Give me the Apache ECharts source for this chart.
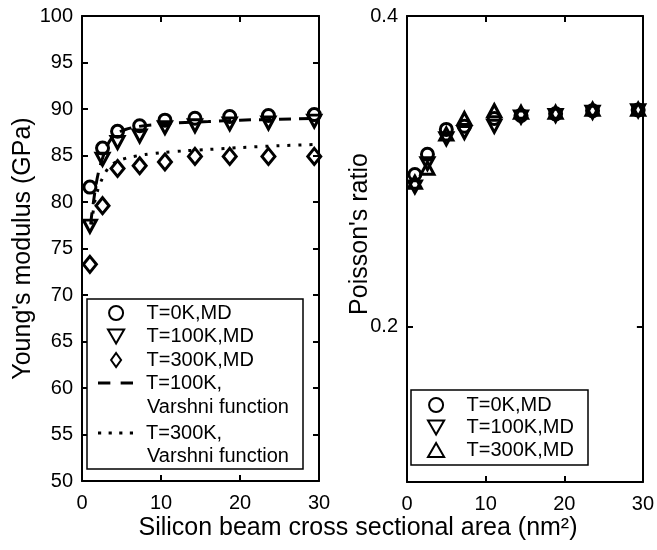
<!DOCTYPE html>
<html>
<head>
<meta charset="utf-8">
<script src="https://cdn.jsdelivr.net/npm/echarts@6/dist/echarts.min.js"></script>
<style>
html,body{margin:0;padding:0;background:#fff;}
#chart{width:657px;height:550px;}
</style>
</head>
<body>
<div id="chart"></div>
<script>
// ---- data ----
const xLeft = [1.0, 2.6, 4.5, 7.3, 10.5, 14.3, 18.7, 23.6, 29.4];
const youngT0 = [81.6, 85.8, 87.6, 88.2, 88.8, 89.0, 89.2, 89.3, 89.4];
const youngT100 = [77.4, 84.6, 86.4, 87.1, 88.0, 88.2, 88.4, 88.5, 88.7];
const youngT300 = [73.3, 79.6, 83.6, 83.9, 84.3, 84.9, 84.9, 84.9, 84.9];

const varshni100X = [1.1, 1.2, 1.45, 1.8, 2.2, 2.6, 3.1, 3.7, 4.5, 5.5, 7, 9, 12, 16, 20, 25, 30];
const varshni100Y = [77.6, 78.4, 80.0, 82.0, 83.6, 84.7, 85.9, 86.8, 87.4, 87.8, 88.1, 88.3, 88.5, 88.65, 88.8, 88.9, 89.0];
const varshni300X = [1.2, 1.6, 2.0, 2.4, 2.9, 3.5, 4.5, 6, 8, 10, 13, 16, 20, 25, 30];
const varshni300Y = [77.6, 80.0, 81.3, 82.2, 83.1, 83.8, 84.4, 84.8, 85.1, 85.3, 85.5, 85.65, 85.85, 86.05, 86.2];

const xRight = [1.0, 2.6, 5.0, 7.3, 11.1, 14.5, 18.9, 23.6, 29.4];
const poissonT0 = [0.298, 0.311, 0.327, 0.329, 0.334, 0.336, 0.337, 0.339, 0.3395];
const poissonT100 = [0.290, 0.305, 0.321, 0.325, 0.329, 0.335, 0.336, 0.338, 0.339];
const poissonT300 = [0.293, 0.302, 0.324, 0.334, 0.339, 0.338, 0.338, 0.340, 0.340];

const xTicks = [0, 10, 20, 30];
const youngTicks = [50, 55, 60, 65, 70, 75, 80, 85, 90, 95, 100];
const poissonTicks = [0.2, 0.4];

const names = ['T=0K,MD', 'T=100K,MD', 'T=300K,MD', 'T=100K,', 'T=300K,'];
const varshniLine2 = 'Varshni function';
const xTitle = 'Silicon beam cross sectional area (nm²)';
const yTitleLeft = "Young's modulus (GPa)";
const yTitleRight = "Poisson's ratio";

// ---- chart ----
const FONT = "'Liberation Sans', Arial, Helvetica, sans-serif";
const CIRCLE = 'circle';
const TRI_DOWN = 'path://M0,0 L10,0 L5,8.66 Z';
const TRI_UP = 'path://M5,0 L10,8.66 L0,8.66 Z';
const DIAMOND = 'path://M5,0 L10,7 L5,14 L0,7 Z';
const DASH_ICON = 'path://M0,0 L12,0 L12,3 L0,3 Z M22,0 L34,0 L34,3 L22,3 Z';
const DOT_ICON = 'path://M0,0 h3 v3 h-3 Z M10,0 h3 v3 h-3 Z M20,0 h3 v3 h-3 Z M30,0 h3 v3 h-3 Z';
const hollow = {color: 'rgba(255,255,255,0)', borderColor: '#000', borderWidth: 3, opacity: 1};

function pairs(xs, ys) { return xs.map((x, i) => [x, ys[i]]); }

const chart = echarts.init(document.getElementById('chart'), null, {renderer: 'canvas'});

const axisCommon = {
  axisLine: {show: true, onZero: false, lineStyle: {color: '#000', width: 2}},
  axisTick: {show: true, inside: true, length: 6, lineStyle: {color: '#000', width: 2}},
  splitLine: {show: false},
  axisLabel: {color: '#000', fontSize: 20, fontFamily: FONT}
};

function xAx(grid, pos, labels) {
  return Object.assign({}, axisCommon, {
    type: 'value', gridIndex: grid, position: pos, min: 0, max: 30, interval: 10,
    axisLabel: Object.assign({}, axisCommon.axisLabel, {show: labels, margin: 12})
  });
}

const legendText = {color: '#000', fontSize: 20, fontFamily: FONT, lineHeight: 20, padding: [0, 0, 0, 8]};

const option = {
  animation: false,
  backgroundColor: '#fff',
  grid: [
    {left: 82, top: 16, width: 237, height: 465},
    {left: 407, top: 16, width: 237, height: 466}
  ],
  xAxis: [
    xAx(0, 'bottom', true), xAx(0, 'top', false),
    xAx(1, 'bottom', true), xAx(1, 'top', false)
  ],
  yAxis: [
    Object.assign({}, axisCommon, {
      type: 'value', gridIndex: 0, position: 'left', min: 50, max: 100, interval: 5,
      axisLabel: Object.assign({}, axisCommon.axisLabel, {margin: 9}),
      name: yTitleLeft, nameLocation: 'middle', nameGap: 45,
      nameTextStyle: {color: '#000', fontSize: 25, fontFamily: FONT}
    }),
    Object.assign({}, axisCommon, {
      type: 'value', gridIndex: 0, position: 'right', min: 50, max: 100, interval: 5,
      axisLabel: {show: false}
    }),
    Object.assign({}, axisCommon, {
      type: 'value', gridIndex: 1, position: 'left', min: 0.1, max: 0.4,
      axisLabel: Object.assign({}, axisCommon.axisLabel, {margin: 9, customValues: poissonTicks}),
      axisTick: Object.assign({}, axisCommon.axisTick, {customValues: poissonTicks})
    }),
    Object.assign({}, axisCommon, {
      type: 'value', gridIndex: 1, position: 'right', min: 0.1, max: 0.4,
      axisLabel: {show: false},
      axisTick: Object.assign({}, axisCommon.axisTick, {customValues: poissonTicks})
    })
  ],
  legend: [
    {
      orient: 'vertical', left: 107, top: 303, padding: 0, itemWidth: 35, itemHeight: 14, itemGap: 3.5,
      data: [
        {name: names[0], icon: CIRCLE},
        {name: names[1], icon: TRI_DOWN},
        {name: names[2], icon: DIAMOND}
      ],
      z: 10, textStyle: legendText, selectedMode: false
    },
    {
      orient: 'vertical', left: 98, top: 373, padding: 0, itemWidth: 35, itemHeight: 14,
      data: [{name: names[3], icon: DASH_ICON}], z: 10, textStyle: legendText, selectedMode: false
    },
    {
      orient: 'vertical', left: 98, top: 423, padding: 0, itemWidth: 35, itemHeight: 14,
      data: [{name: names[4], icon: DOT_ICON}], z: 10, textStyle: legendText, selectedMode: false
    },
    {
      orient: 'vertical', left: 427, top: 395, padding: 0, itemWidth: 35, itemHeight: 14, itemGap: 2.5,
      data: [
        {name: names[0] + ' ', icon: CIRCLE},
        {name: names[1] + ' ', icon: TRI_DOWN},
        {name: names[2] + ' ', icon: TRI_UP}
      ],
      z: 10, formatter: n => n.trim(), textStyle: legendText, selectedMode: false
    }
  ],
  graphic: [
    {type: 'rect', z: 5, shape: {x: 87, y: 299, width: 216, height: 170},
      style: {fill: '#fff', stroke: '#000', lineWidth: 1.5}},
    {type: 'rect', z: 5, shape: {x: 411, y: 390, width: 177, height: 75},
      style: {fill: '#fff', stroke: '#000', lineWidth: 1.5}},
    {type: 'text', z: 11, x: 147, y: 407,
      style: {text: varshniLine2, fill: '#000', font: '20px ' + FONT, textVerticalAlign: 'middle'}},
    {type: 'text', z: 11, x: 147, y: 456,
      style: {text: varshniLine2, fill: '#000', font: '20px ' + FONT, textVerticalAlign: 'middle'}},
    {type: 'text', z: 11, x: 358, y: 528,
      style: {text: xTitle, fill: '#000', font: '25px ' + FONT, textAlign: 'center', textVerticalAlign: 'middle'}},
    {type: 'text', z: 11, x: 360, y: 234, rotation: Math.PI / 2,
      style: {text: yTitleRight, fill: '#000', font: '25px ' + FONT, textAlign: 'center', textVerticalAlign: 'middle'}}
  ],
  series: [
    {name: names[0], type: 'scatter', xAxisIndex: 0, yAxisIndex: 0, symbol: CIRCLE, symbolSize: 12,
      itemStyle: hollow, data: pairs(xLeft, youngT0)},
    {name: names[1], type: 'scatter', xAxisIndex: 0, yAxisIndex: 0, symbol: TRI_DOWN, symbolSize: [13, 12],
      itemStyle: hollow, data: pairs(xLeft, youngT100)},
    {name: names[2], type: 'scatter', xAxisIndex: 0, yAxisIndex: 0, symbol: DIAMOND, symbolSize: [13, 16],
      itemStyle: hollow, data: pairs(xLeft, youngT300)},
    {name: names[3], type: 'line', xAxisIndex: 0, yAxisIndex: 0, symbol: 'none', showSymbol: false, smooth: 0.3,
      lineStyle: {color: '#000', width: 3, type: [12, 8]}, itemStyle: {color: '#000', borderWidth: 0},
      data: pairs(varshni100X, varshni100Y)},
    {name: names[4], type: 'line', xAxisIndex: 0, yAxisIndex: 0, symbol: 'none', showSymbol: false, smooth: 0.3,
      lineStyle: {color: '#000', width: 3, type: [3, 8]}, itemStyle: {color: '#000', borderWidth: 0},
      data: pairs(varshni300X, varshni300Y)},
    {name: names[0] + ' ', type: 'scatter', xAxisIndex: 2, yAxisIndex: 2, symbol: CIRCLE, symbolSize: 12,
      itemStyle: hollow, data: pairs(xRight, poissonT0)},
    {name: names[1] + ' ', type: 'scatter', xAxisIndex: 2, yAxisIndex: 2, symbol: TRI_DOWN, symbolSize: [13, 12],
      itemStyle: hollow, data: pairs(xRight, poissonT100)},
    {name: names[2] + ' ', type: 'scatter', xAxisIndex: 2, yAxisIndex: 2, symbol: TRI_UP, symbolSize: [13, 12],
      itemStyle: hollow, data: pairs(xRight, poissonT300)}
  ]
};
chart.setOption(option);
</script>
</body>
</html>
